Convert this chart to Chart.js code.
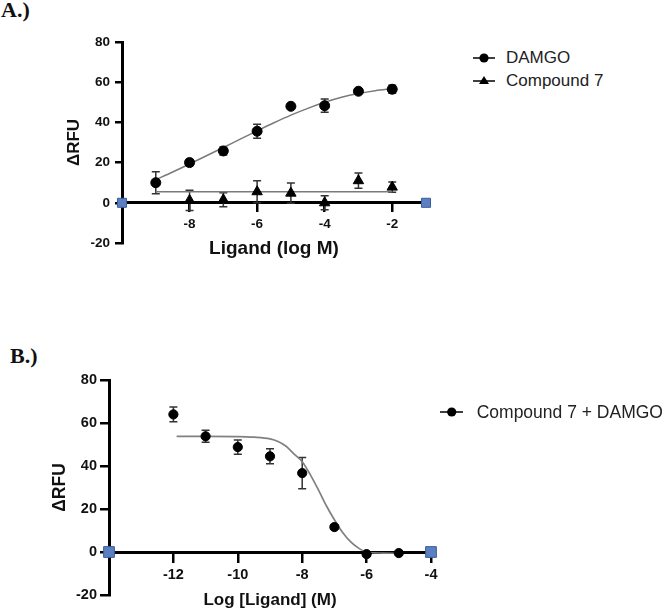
<!DOCTYPE html>
<html>
<head>
<meta charset="utf-8">
<script src="https://cdn.jsdelivr.net/npm/chart.js@4.4.1/dist/chart.umd.min.js"></script>
<style>
  html, body { margin: 0; padding: 0; background: #fff; overflow: hidden; width: 666px; height: 609px; }
  #wrap { position: relative; width: 666px; height: 609px; }
  canvas { position: absolute; }
  #grafA { left: 0; top: 0; }
  #grafB { left: 0; top: 300px; }
  .panel { position: absolute; font-family: "Liberation Serif", "Times New Roman", serif; font-weight: bold; font-size: 22px; line-height: 1; color: #111; }
  .leyenda { position: absolute; font-family: "Liberation Sans", Arial, sans-serif; color: #222; }
  .fila { position: absolute; left: 0; height: 20px; line-height: 20px; white-space: nowrap; display: flex; align-items: center; }
  .fila svg { flex: none; }
</style>
</head>
<body>
<div id="wrap">
  <div class="panel" style="left:1px; top:-1px;">A.)</div>
  <div class="panel" style="left:10px; top:345px;">B.)</div>
  <canvas id="grafA" width="440" height="300"></canvas>
  <canvas id="grafB" width="460" height="360"></canvas>
  <div class="leyenda" id="leyendaA" style="left:473px; top:0; font-size:17px;"></div>
  <div class="leyenda" id="leyendaB" style="left:440px; top:0; font-size:17.5px;"></div>
</div>
<script>
// ---- A.) DAMGO y Compound 7 ----
const logA = [-9, -8, -7, -6, -5, -4, -3, -2];
const damgo = [10, 20, 25.8, 35.6, 48, 48.3, 55.5, 56.5];
const damgoErr = [5.5, 1.5, 2, 3.5, 1, 3.3, 1, 2];

const logC7 = [-8, -7, -6, -5, -4, -3, -2];
const comp7 = [1.2, 1.5, 5.5, 4.8, 0, 11, 7.8];
const comp7Err = [5, 3.5, 5.5, 5, 3.5, 3.8, 2.5];

// curvas ajustadas
const ajusteDamgoX = [-9, -8.5, -8, -7.5, -7, -6.5, -6, -5.5, -5, -4.5, -4, -3.5, -3, -2.5, -2];
const ajusteDamgoY = [11.5, 15.3, 19.3, 23.4, 27.5, 31.7, 35.8, 39.8, 43.6, 47.0, 50.0, 52.5, 54.4, 55.8, 56.8];
const ajusteC7X = [-9, -2];
const ajusteC7Y = [5.5, 5.5];

const extremosA = [-10, -1];
const ticksXA = [-8, -6, -4, -2];
const ticksY = [-20, 0, 20, 40, 60, 80];
const etiquetasA = ['DAMGO', 'Compound 7'];

// ---- B.) Compound 7 + DAMGO ----
const logB = [-12, -11, -10, -9, -8, -7, -6, -5];
const comp7Damgo = [64, 53.8, 48.8, 44.5, 36.7, 11.6, -1, -0.5];
const comp7DamgoErr = [3.4, 2.8, 3.3, 3.5, 7.3, 1, 1, 0.5];

const ajusteBX = [-11.9, -11, -10, -9.5, -9, -8.75, -8.5, -8.25, -8, -7.75, -7.5, -7.25, -7, -6.75, -6.5, -6.25, -6, -5.5, -5];
const ajusteBY = [53.8, 53.8, 53.7, 53.4, 52.6, 51.4, 49.2, 45.5, 42, 36, 29, 21.5, 15, 9.2, 4.8, 1.8, 0, -0.5, -0.6];

const extremosB = [-14, -4];
const ticksXB = [-12, -10, -8, -6, -4];
const etiquetasB = ['Compound 7 + DAMGO'];

const fuente = 'Liberation Sans';

function puntos(xs, ys) {
    return xs.map((x, i) => ({ x: x, y: ys[i] }));
}

// barras de error, dibujadas con la escala y del grafico
const barrasError = {
    id: 'barrasError',
    beforeDatasetsDraw(chart) {
        const ctx = chart.ctx;
        const sy = chart.scales.y;
        ctx.save();
        ctx.strokeStyle = '#333';
        ctx.lineWidth = 1.5;
        chart.data.datasets.forEach((ds, i) => {
            if (!ds.errores) return;
            const meta = chart.getDatasetMeta(i);
            meta.data.forEach((pt, j) => {
                const e = ds.errores[j];
                const v = ds.data[j].y;
                const arriba = sy.getPixelForValue(v + e);
                const abajo = sy.getPixelForValue(v - e);
                ctx.beginPath();
                ctx.moveTo(pt.x, arriba); ctx.lineTo(pt.x, abajo);
                ctx.moveTo(pt.x - 4, arriba); ctx.lineTo(pt.x + 4, arriba);
                ctx.moveTo(pt.x - 4, abajo); ctx.lineTo(pt.x + 4, abajo);
                ctx.stroke();
            });
        });
        ctx.restore();
    }
};

// el eje x va en y = 0; no ocupa espacio en el layout, su alto solo ubica el titulo
function ejes(cfg) {
    return {
        x: {
            type: 'linear',
            min: cfg.xmin,
            max: cfg.xmax,
            position: { y: 0 },
            afterBuildTicks: ax => { ax.ticks = cfg.ticksX.map(v => ({ value: v })); },
            afterFit: ax => { ax.height = cfg.altoX; },
            grid: { display: true, drawOnChartArea: false, drawTicks: true, tickLength: cfg.tlX, color: '#000', lineWidth: 2.5 },
            border: { display: true, color: '#000', width: 3 },
            ticks: { autoSkip: false, maxRotation: 0, color: '#111', padding: 5, font: { family: fuente, size: cfg.tickFont, weight: 'bold' } },
            title: { display: true, text: cfg.tituloX, color: '#111', padding: 0, font: { family: fuente, size: cfg.tituloXFont, weight: 'bold' } }
        },
        y: {
            type: 'linear',
            min: -20,
            max: 80,
            afterBuildTicks: ax => { ax.ticks = ticksY.map(v => ({ value: v })); },
            afterFit: ax => { ax.width = 70; },
            grid: { display: true, drawOnChartArea: false, drawTicks: true, tickLength: cfg.tlY, color: '#000', lineWidth: 2.5 },
            border: { display: true, color: '#000', width: 3 },
            ticks: { autoSkip: false, color: '#111', padding: cfg.padY, font: { family: fuente, size: cfg.tickFont, weight: 'bold' } },
            title: { display: true, text: 'ΔRFU', color: '#111', padding: { top: cfg.padTituloY, bottom: 0 }, font: { family: fuente, size: cfg.tituloYFont, weight: 'bold' } }
        }
    };
}

const cuadroAzul = {
    pointStyle: 'rect',
    backgroundColor: '#5b80c2',
    borderColor: '#3c5d9a',
    borderWidth: 1,
    showLine: false,
    order: 0
};

const ctxA = document.getElementById('grafA').getContext('2d');
const chA = new Chart(ctxA, {
    type: 'scatter',
    data: {
        datasets: [
            {
                label: etiquetasA[0],
                data: puntos(logA, damgo),
                errores: damgoErr,
                pointStyle: 'circle',
                pointRadius: 5,
                backgroundColor: '#000',
                borderColor: '#000',
                order: 1
            },
            {
                label: etiquetasA[1],
                data: puntos(logC7, comp7),
                errores: comp7Err,
                pointStyle: 'triangle',
                pointRadius: 6,
                backgroundColor: '#000',
                borderColor: '#000',
                order: 1
            },
            {
                label: 'ajuste DAMGO',
                data: puntos(ajusteDamgoX, ajusteDamgoY),
                showLine: true,
                pointRadius: 0,
                borderColor: '#7a7a7a',
                borderWidth: 1.5,
                cubicInterpolationMode: 'monotone',
                order: 2
            },
            {
                label: 'ajuste Compound 7',
                data: puntos(ajusteC7X, ajusteC7Y),
                showLine: true,
                pointRadius: 0,
                borderColor: '#7a7a7a',
                borderWidth: 1.5,
                order: 2
            },
            Object.assign({ label: 'extremos', data: puntos(extremosA, [0, 0]), pointRadius: 6.4 }, cuadroAzul)
        ]
    },
    options: {
        responsive: false,
        animation: false,
        clip: false,
        layout: { padding: { left: 52, right: 14, top: 42, bottom: 57 } },
        plugins: { legend: { display: false }, tooltip: { enabled: false } },
        scales: ejes({
            xmin: extremosA[0], xmax: extremosA[1], ticksX: ticksXA, altoX: 57, tlX: 8, tlY: 7, padY: 5,
            tickFont: 13.5, tituloX: 'Ligand (log M)', tituloXFont: 19, tituloYFont: 17, padTituloY: 11.8
        })
    },
    plugins: [barrasError]
});

const ctxB = document.getElementById('grafB').getContext('2d');
const chB = new Chart(ctxB, {
    type: 'scatter',
    data: {
        datasets: [
            {
                label: etiquetasB[0],
                data: puntos(logB, comp7Damgo),
                errores: comp7DamgoErr,
                pointStyle: 'circle',
                pointRadius: 4.6,
                backgroundColor: '#000',
                borderColor: '#000',
                order: 1
            },
            {
                label: 'ajuste',
                data: puntos(ajusteBX, ajusteBY),
                showLine: true,
                pointRadius: 0,
                borderColor: '#808080',
                borderWidth: 1.7,
                cubicInterpolationMode: 'monotone',
                order: 2
            },
            Object.assign({ label: 'extremos', data: puntos(extremosB, [0, 0]), pointRadius: 7.6 }, cuadroAzul)
        ]
    },
    options: {
        responsive: false,
        animation: false,
        clip: false,
        layout: { padding: { left: 39, right: 29, top: 80, bottom: 65 } },
        plugins: { legend: { display: false }, tooltip: { enabled: false } },
        scales: ejes({
            xmin: extremosB[0], xmax: extremosB[1], ticksX: ticksXB, altoX: 58.5, tlX: 9, tlY: 9, padY: 3,
            tickFont: 14.5, tituloX: 'Log [Ligand] (M)', tituloXFont: 17, tituloYFont: 17.5, padTituloY: 10.5
        })
    },
    plugins: [barrasError]
});

// leyendas en HTML
function simbolo(tipo, ancho, cx) {
    let marca = '';
    if (tipo === 'circle') marca = '<circle cx="' + cx + '" cy="7" r="4.6" fill="#000"/>';
    else marca = '<polygon points="' + cx + ',2 ' + (cx + 5) + ',10 ' + (cx - 5) + ',10" fill="#000"/>';
    return '<svg width="' + ancho + '" height="14"><line x1="0" y1="7" x2="' + ancho + '" y2="7" stroke="#000" stroke-width="1.5"/>' + marca + '</svg>';
}

function leyenda(id, etiquetas, tipos, centros, ancho, cx, hueco) {
    const cont = document.getElementById(id);
    etiquetas.forEach((t, i) => {
        const fila = document.createElement('div');
        fila.className = 'fila';
        fila.style.top = (centros[i] - 10) + 'px';
        fila.innerHTML = simbolo(tipos[i], ancho, cx) + '<span style="margin-left:' + hueco + 'px">' + t + '</span>';
        cont.appendChild(fila);
    });
}

leyenda('leyendaA', etiquetasA, ['circle', 'triangle'], [58, 81], 22, 11, 11);
leyenda('leyendaB', etiquetasB, ['circle'], [411.7], 23, 11.7, 13.7);
</script>
</body>
</html>
